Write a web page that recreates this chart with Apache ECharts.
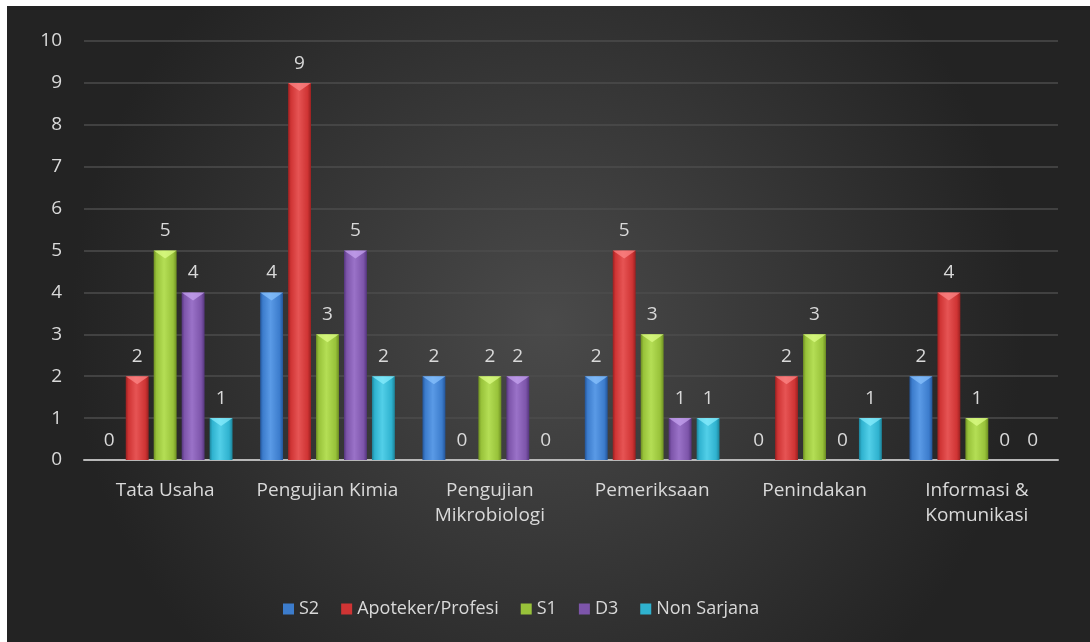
<!DOCTYPE html>
<html>
<head>
    <meta charset="UTF-8">
    <title>Pendidikan Pegawai</title>
    <script src="https://cdn.jsdelivr.net/npm/echarts@6/dist/echarts.min.js"></script>
    <style>
        body { margin: 0; background: #ffffff; }
        #main { position: absolute; left: 7px; top: 6px; width: 1083px; height: 636px; }
    </style>
</head>
<body>
    <div id="main"></div>
    <script type="text/javascript">
        // data
        var categories = ['Tata Usaha', 'Pengujian Kimia', 'Pengujian\nMikrobiologi', 'Pemeriksaan', 'Penindakan', 'Informasi &\nKomunikasi'];
        var seriesNames = ['S2', 'Apoteker/Profesi', 'S1', 'D3', 'Non Sarjana'];
        var s2 = [0, 4, 2, 2, 0, 2];
        var apoteker = [2, 9, 0, 5, 2, 4];
        var s1 = [5, 3, 2, 3, 3, 1];
        var d3 = [4, 5, 2, 1, 0, 0];
        var nonSarjana = [1, 2, 0, 1, 1, 0];
        var yTicks = [0, 1, 2, 3, 4, 5, 6, 7, 8, 9, 10];

        // base, light, dark, bevel per series
        var colors = [
            ['#3c7ccc', '#5a9ae6', '#23559a', '#8cc4ff'],
            ['#cf3434', '#e65454', '#9a2020', '#ff8a8a'],
            ['#98c23a', '#b4de55', '#6e8f22', '#e0ff8a'],
            ['#7d55aa', '#9a72c8', '#55357e', '#c9a6f2'],
            ['#2fb2cf', '#52cfe8', '#1c8399', '#8cf0ff']
        ];

        var font = 'Open Sans';
        var textColor = '#d9d9d9';
        var barGap = '22%';
        var catGap = '17%';

        function barColor(c) {
            return {
                type: 'linear', x: 0, y: 0, x2: 1, y2: 0,
                colorStops: [
                    { offset: 0, color: c[2] },
                    { offset: 0.12, color: c[0] },
                    { offset: 0.45, color: c[1] },
                    { offset: 0.85, color: c[0] },
                    { offset: 1, color: c[2] }
                ]
            };
        }

        var allData = [s2, apoteker, s1, d3, nonSarjana];
        var series = [];
        allData.forEach(function (d, i) {
            series.push({
                name: seriesNames[i],
                type: 'bar',
                barGap: barGap,
                barCategoryGap: catGap,
                data: d,
                itemStyle: { color: barColor(colors[i]) },
                label: {
                    show: true,
                    position: 'top',
                    distance: 10,
                    color: textColor,
                    fontFamily: font,
                    fontSize: 19
                }
            });
        });
        // bevel caps on top of each bar
        allData.forEach(function (d, i) {
            series.push({
                name: seriesNames[i],
                type: 'pictorialBar',
                barGap: barGap,
                barCategoryGap: catGap,
                symbol: 'path://M0,0 L20,0 L10,7 Z',
                symbolSize: ['100%', 8],
                symbolPosition: 'end',
                z: 3,
                silent: true,
                data: d.map(function (v) {
                    return v === 0 ? { value: v, symbolSize: [0, 0] } : v;
                }),
                itemStyle: { color: colors[i][3], opacity: 0.7 }
            });
        });

        var myChart = echarts.init(document.getElementById('main'));

        var option = {
            backgroundColor: {
                type: 'radial', x: 0.5, y: 0.5, r: 0.75,
                colorStops: [
                    { offset: 0, color: '#4a4a4a' },
                    { offset: 1, color: '#232323' }
                ]
            },
            animation: false,
            legend: {
                top: 589,
                left: 271,
                itemWidth: 11,
                itemHeight: 11,
                itemGap: 22,
                icon: 'rect',
                data: seriesNames.map(function (n, i) {
                    return { name: n, itemStyle: { color: colors[i][0] } };
                }),
                textStyle: { color: textColor, fontFamily: font, fontSize: 18 }
            },
            grid: {
                left: 77,
                right: 32,
                top: 35,
                bottom: 182
            },
            xAxis: {
                type: 'category',
                data: categories,
                axisLine: { lineStyle: { color: '#b8b8b8', width: 2 } },
                axisTick: { show: false },
                axisLabel: {
                    color: textColor,
                    fontFamily: font,
                    fontSize: 19,
                    margin: 18,
                    lineHeight: 25,
                    interval: 0
                }
            },
            yAxis: {
                type: 'value',
                min: yTicks[0],
                max: yTicks[yTicks.length - 1],
                interval: 1,
                axisLine: { show: false },
                axisTick: { show: false },
                axisLabel: {
                    color: textColor,
                    fontFamily: font,
                    fontSize: 19,
                    margin: 22
                },
                splitLine: { lineStyle: { color: '#4d4d4d', width: 1.5 } }
            },
            series: series
        };

        myChart.setOption(option);
    </script>
</body>
</html>
